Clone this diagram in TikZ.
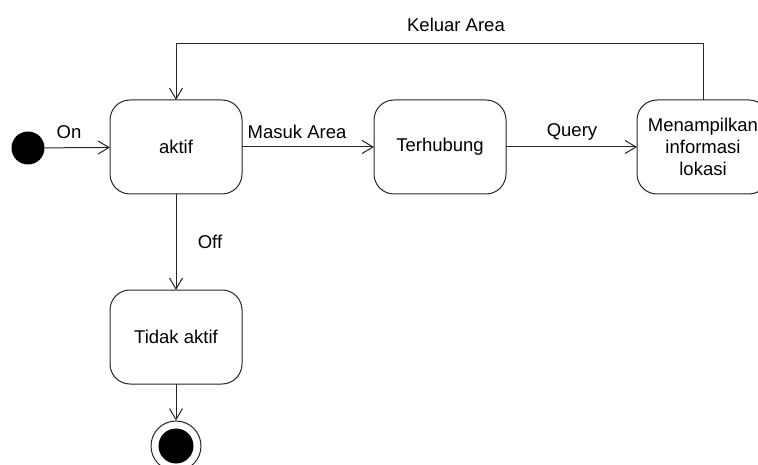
\documentclass[tikz,border=0pt]{standalone}
\usepackage{fontspec}
\setmainfont{Liberation Sans}
\usetikzlibrary{arrows.meta}
\begin{document}
\begin{tikzpicture}[x=1pt,y=-1pt,
  every node/.style={font=\fontsize{18.5}{22}\selectfont},
  statebox/.style={draw=black!85,line width=1pt,rounded corners=20pt,minimum width=132pt,minimum height=94pt,inner sep=0pt,outer sep=0pt,align=center},
  arr/.style={draw=black!85,line width=1pt,-{Straight Barb[length=11pt,width=13pt]}},
  lbl/.style={inner sep=0pt}]
\useasboundingbox (0,0) rectangle (758,465);
\node[circle,fill=black,minimum size=33pt,inner sep=0pt] (init) at (28,148) {};
\node[statebox] (aktif) at (176,147) {aktif};
\node[statebox] (terh) at (440,147) {Terhubung};
\node[statebox] (menu) at (703,147) {Menampilkan\\informasi\\lokasi};
\node[statebox] (tidak) at (176,337) {Tidak aktif};
\node[circle,draw=black!85,line width=1pt,minimum size=50pt,inner sep=0pt] (final) at (176,446) {};
\node[circle,fill=black,minimum size=35pt,inner sep=0pt] (finalin) at (176,446) {};
\coordinate (k) at (703,44);
\draw[arr] (init) -- (aktif);
\draw[arr] (aktif) -- (terh);
\draw[arr] (terh) -- (menu);
\draw[arr] (menu.north) -- (k) -| (aktif.north);
\draw[arr] (aktif) -- (tidak);
\draw[arr] (tidak) -- (final);
\node[lbl] (lon) at (69,132) {On};
\node[lbl] (lmasuk) at (297,132) {Masuk Area};
\node[lbl] (lquery) at (572,132) {Query};
\node[lbl] (lkeluar) at (456,25) {Keluar Area};
\node[lbl] (loff) at (210,242) {Off};
\end{tikzpicture}
\end{document}
